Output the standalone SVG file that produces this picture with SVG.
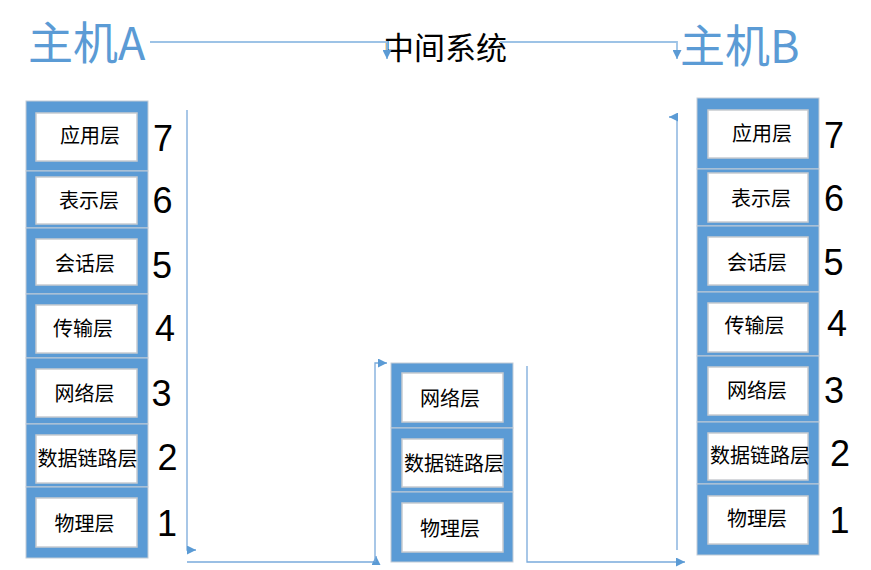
<svg xmlns="http://www.w3.org/2000/svg" width="871" height="570" viewBox="0 0 871 570">
<style>
.outer{fill:#5b9bd5;stroke:#c3ccd6;stroke-width:1}
.inner{fill:#ffffff;stroke:#c8cbd0;stroke-width:1.5}
.lbl{font-family:"Noto Sans CJK SC","Noto Sans",sans-serif;font-size:20px;fill:#000;text-anchor:middle}
.num{font-family:"Liberation Sans","Noto Sans",sans-serif;font-size:36px;fill:#000;text-anchor:middle}
.title{font-family:"Noto Sans CJK SC","Noto Sans",sans-serif;font-size:45px;fill:#5b9bd5}
.mid{font-family:"Noto Sans CJK SC","Noto Sans",sans-serif;font-size:31px;fill:#000}
.top{fill:none;stroke:#9dc3e6;stroke-width:1.8}
.conn{fill:none;stroke:#7aaadb;stroke-width:1.3}
</style>
<defs>
<marker id="ah" viewBox="0 0 10 10" refX="10" refY="5" markerWidth="9" markerHeight="9" markerUnits="userSpaceOnUse" orient="auto">
<path d="M0,0 L10,5 L0,10 z" fill="#5b9bd5"/>
</marker>
</defs>

<g id="titles">
<text class="title" x="28" y="60">主机A</text>
<text class="title" x="680" y="63">主机B</text>
<text class="mid" x="383" y="59">中间系统</text>
</g>

<g id="connectors">
<path class="top" d="M150,42 H387 V59" marker-end="url(#ah)"/>
<path class="top" d="M500,42 H677 V59" marker-end="url(#ah)"/>
<path class="conn" d="M187,110 V550 H196" marker-end="url(#ah)"/>
<path class="conn" d="M187,562 H376 V556" marker-end="url(#ah)"/>
<path class="conn" d="M375,562 V363 H387" marker-end="url(#ah)"/>
<path class="conn" d="M527,366 V562 H685" marker-end="url(#ah)"/>
<path class="conn" d="M677,550 V117 H669" marker-end="url(#ah)"/>
</g>

<g id="hostA">
<g id="A7"><rect class="outer" x="26" y="101" width="122" height="70"/><rect class="inner" x="36" y="113" width="101" height="48"/><text class="lbl" x="90" y="142.5">应用层</text><text class="num" x="163" y="151">7</text></g>
<g id="A6"><rect class="outer" x="26" y="171" width="122" height="57"/><rect class="inner" x="36" y="177" width="101" height="47"/><text class="lbl" x="89" y="207.5">表示层</text><text class="num" x="162.5" y="213">6</text></g>
<g id="A5"><rect class="outer" x="26" y="228" width="122" height="66"/><rect class="inner" x="36" y="239" width="101" height="46"/><text class="lbl" x="85" y="270.5">会话层</text><text class="num" x="162" y="278">5</text></g>
<g id="A4"><rect class="outer" x="26" y="294" width="122" height="64"/><rect class="inner" x="36" y="305" width="101" height="48"/><text class="lbl" x="83" y="335.5">传输层</text><text class="num" x="165" y="341">4</text></g>
<g id="A3"><rect class="outer" x="26" y="358" width="122" height="66"/><rect class="inner" x="36" y="369" width="101" height="48"/><text class="lbl" x="84.5" y="400.5">网络层</text><text class="num" x="161.5" y="406">3</text></g>
<g id="A2"><rect class="outer" x="26" y="424" width="122" height="63"/><rect class="inner" x="36" y="435" width="101" height="48"/><text class="lbl" x="87.5" y="465.5">数据链路层</text><text class="num" x="167.5" y="470">2</text></g>
<g id="A1"><rect class="outer" x="26" y="487" width="122" height="71"/><rect class="inner" x="36" y="498" width="101" height="49"/><text class="lbl" x="84.5" y="530.5">物理层</text><text class="num" x="167" y="536">1</text></g>
</g>

<g id="middle">
<g id="M3"><rect class="outer" x="391" y="363" width="122" height="65"/><rect class="inner" x="402" y="373" width="101" height="49"/><text class="lbl" x="450" y="405.5">网络层</text></g>
<g id="M2"><rect class="outer" x="391" y="428" width="122" height="64"/><rect class="inner" x="402" y="439" width="101" height="48"/><text class="lbl" x="454" y="470.5">数据链路层</text></g>
<g id="M1"><rect class="outer" x="391" y="492" width="122" height="70"/><rect class="inner" x="402" y="503" width="101" height="49"/><text class="lbl" x="450" y="535.5">物理层</text></g>
</g>

<g id="hostB">
<g id="B7"><rect class="outer" x="697" y="98" width="122" height="71"/><rect class="inner" x="708" y="110" width="100" height="48"/><text class="lbl" x="762" y="140.5">应用层</text><text class="num" x="834" y="148">7</text></g>
<g id="B6"><rect class="outer" x="697" y="169" width="122" height="57"/><rect class="inner" x="708" y="173" width="100" height="49"/><text class="lbl" x="761" y="205.5">表示层</text><text class="num" x="834" y="211">6</text></g>
<g id="B5"><rect class="outer" x="697" y="226" width="122" height="66"/><rect class="inner" x="708" y="237" width="100" height="48"/><text class="lbl" x="757" y="269.5">会话层</text><text class="num" x="833.5" y="275">5</text></g>
<g id="B4"><rect class="outer" x="697" y="292" width="122" height="64"/><rect class="inner" x="708" y="303" width="100" height="49"/><text class="lbl" x="754.5" y="332.5">传输层</text><text class="num" x="837" y="336">4</text></g>
<g id="B3"><rect class="outer" x="697" y="356" width="122" height="66"/><rect class="inner" x="708" y="367" width="100" height="48"/><text class="lbl" x="757" y="397.5">网络层</text><text class="num" x="834" y="403">3</text></g>
<g id="B2"><rect class="outer" x="697" y="422" width="122" height="62"/><rect class="inner" x="708" y="433" width="100" height="47"/><text class="lbl" x="760" y="462.5">数据链路层</text><text class="num" x="840" y="466">2</text></g>
<g id="B1"><rect class="outer" x="697" y="484" width="122" height="71"/><rect class="inner" x="708" y="496" width="100" height="48"/><text class="lbl" x="757" y="525.5">物理层</text><text class="num" x="839.5" y="533">1</text></g>
</g>
</svg>
